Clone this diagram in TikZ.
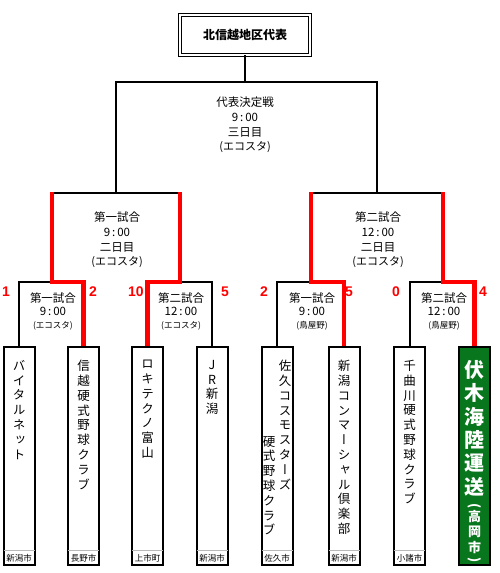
\documentclass[tikz,border=0pt]{standalone}
\usepackage{fontspec}
\setmainfont{Noto Sans CJK JP}
\newfontfamily\vfont[RawFeature=+vert]{Noto Sans CJK JP}
\newfontfamily\scorefont{Liberation Sans}
\definecolor{winred}{RGB}{255,0,0}
\definecolor{teamgreen}{RGB}{8,118,28}
\tikzset{
  bline/.style={line width=2pt, black},
  rline/.style={line width=4.5pt, winred, line join=miter},
  teambox/.style={draw, line width=2pt, minimum width=31pt, minimum height=218pt, anchor=north, inner sep=0pt},
  sepline/.style={gray!55, line width=1pt},
  score/.style={font=\scorefont\bfseries\fontsize{14}{14}\selectfont, text=winred, inner sep=0pt},
  infoA/.style={align=center, font=\fontsize{11.5}{14.6}\selectfont, inner sep=0pt},
  infoB/.style={align=center, font=\fontsize{11.5}{13}\selectfont, inner sep=0pt},
  vname/.style={align=center, font=\vfont\fontsize{12.5}{14.8}\selectfont, anchor=north, inner sep=0pt},
  city/.style={font=\fontsize{8.5}{9}\selectfont, inner sep=0pt},
  paren/.style={font=\bfseries\fontsize{13}{13}\selectfont, text=white, inner sep=0pt},
  titlebox/.style={draw, line width=0.9pt, double, double distance=1.6pt, minimum width=130pt, minimum height=40pt, font=\bfseries\fontsize{12}{14}\selectfont},
}
\begin{document}
\begin{tikzpicture}[x=1pt,y=-1pt]
\useasboundingbox (0,0) rectangle (500,573);
\fill[white] (0,0) rectangle (500,573);

% title
\node[titlebox] (top) at (245,35) {北信越地区代表};

% team boxes
\node[teambox] (t1) at (19,346) {};
\node[teambox] (t2) at (83.5,346) {};
\node[teambox] (t3) at (147.5,346) {};
\node[teambox] (t4) at (212,346) {};
\node[teambox] (t5) at (277,346) {};
\node[teambox] (t6) at (344,346) {};
\node[teambox] (t7) at (409.5,346) {};
\node[teambox, fill=teamgreen] (t8) at (474.5,346) {};

\foreach \t in {t1,t2,t3,t4,t5,t6,t7}{
  \draw[sepline] ([shift={(1pt,16pt)}]\t.south west) -- ([shift={(-1pt,16pt)}]\t.south east);
}

% city labels
\node[city] (c1) at ([yshift=8pt]t1.south) {新潟市};
\node[city] (c2) at ([yshift=8pt]t2.south) {長野市};
\node[city] (c3) at ([yshift=8pt]t3.south) {上市町};
\node[city] (c4) at ([yshift=8pt]t4.south) {新潟市};
\node[city] (c5) at ([yshift=8pt]t5.south) {佐久市};
\node[city] (c6) at ([yshift=8pt]t6.south) {新潟市};
\node[city] (c7) at ([yshift=8pt]t7.south) {小諸市};

% team names
\node[vname] (n1) at ([yshift=-14pt]t1.north) {バ\\イ\\タ\\ル\\ネ\\ッ\\ト};
\node[vname] (n2) at ([yshift=-14pt]t2.north) {信\\越\\硬\\式\\野\\球\\ク\\ラ\\ブ};
\node[vname] (n3) at ([yshift=-14pt]t3.north) {ロ\\キ\\テ\\ク\\ノ\\富\\山};
\node[vname] (n4) at ([yshift=-14pt]t4.north) {J\\R\\新\\潟};
\node[vname] (n5a) at ([shift={(8pt,-14pt)}]t5.north) {佐\\久\\コ\\ス\\モ\\ス\\タ\\ー\\ズ};
\node[vname] (n5b) at ([shift={(-8pt,-90pt)}]t5.north) {硬\\式\\野\\球\\ク\\ラ\\ブ};
\node[vname] (n6) at ([yshift=-14pt]t6.north) {新\\潟\\コ\\ン\\マ\\ー\\シ\\ャ\\ル\\倶\\楽\\部};
\node[vname] (n7) at ([yshift=-14pt]t7.north) {千\\曲\\川\\硬\\式\\野\\球\\ク\\ラ\\ブ};
\node[vname, font=\vfont\bfseries\fontsize{20}{23.4}\selectfont, text=white] (n8) at ([yshift=-14pt]t8.north) {伏\\木\\海\\陸\\運\\送};
\node[vname, font=\vfont\bfseries\fontsize{13}{15.5}\selectfont, text=white] (n8b) at ([yshift=-164pt]t8.north) {高\\岡\\市};
\node[paren] (p1) at (474.5,506) {\rotatebox{-90}{(}};
\node[paren] (p2) at (474.5,560) {\rotatebox{-90}{)}};

% match info
\node[infoA] (m0) at (245,125) {代表決定戦\\9\,:\,00\\三日目\\{\fontsize{11}{14.6}\selectfont(エコスタ)}};
\node[infoA] (m1) at (117,240) {第一試合\\9\,:\,00\\二日目\\{\fontsize{11}{14.6}\selectfont(エコスタ)}};
\node[infoA] (m2) at (378,240) {第二試合\\12\,:\,00\\二日目\\{\fontsize{11}{14.6}\selectfont(エコスタ)}};
\node[infoB] (m11) at (53,311) {第一試合\\9\,:\,00\\{\fontsize{8.5}{12}\selectfont(エコスタ)}};
\node[infoB] (m12) at (181,311) {第二試合\\12\,:\,00\\{\fontsize{8.5}{12}\selectfont(エコスタ)}};
\node[infoB] (m21) at (312,311) {第一試合\\9\,:\,00\\{\fontsize{8.5}{12}\selectfont(鳥屋野)}};
\node[infoB] (m22) at (444,311) {第二試合\\12\,:\,00\\{\fontsize{8.5}{12}\selectfont(鳥屋野)}};

% scores
\node[score] (s1) at (6,292) {1};
\node[score] (s2) at (93,292) {2};
\node[score] (s3) at (136,292) {10};
\node[score] (s4) at (225,292) {5};
\node[score] (s5) at (264,292) {2};
\node[score] (s6) at (349,292) {5};
\node[score] (s7) at (396,292) {0};
\node[score] (s8) at (483,292) {4};

% bracket coordinates
\coordinate (a0) at (245,82);
\coordinate (a1) at (116,82);
\coordinate (a2) at (377,82);
\coordinate (b1) at (116,193);
\coordinate (b2) at (377,193);
\coordinate (l1) at (52,193);
\coordinate (l2) at (180,193);
\coordinate (r1) at (311,193);
\coordinate (r2) at (443,193);
\coordinate (d1) at (19,282);
\coordinate (d2) at (83.5,282);
\coordinate (d3) at (147.5,282);
\coordinate (d4) at (212,282);
\coordinate (d5) at (277,282);
\coordinate (d6) at (344,282);
\coordinate (d7) at (409.5,282);
\coordinate (d8) at (474.5,282);

% black bracket lines
\draw[bline] (top.south) -- (a0);
\draw[bline] (b1) -- (a1) -- (a2) -- (b2);
\draw[bline] (l1) -- (l2);
\draw[bline] (r1) -- (r2);
\draw[bline] (t1.north) -- (d1) -- (d2) -- (t2.north);
\draw[bline] (t3.north) -- (d3) -- (d4) -- (t4.north);
\draw[bline] (t5.north) -- (d5) -- (d6) -- (t6.north);
\draw[bline] (t7.north) -- (d7) -- (d8) -- (t8.north);

% winner paths
\draw[rline] ([yshift=1pt]l1) -- (l1 |- d1) -- (d2) -- (t2.north);
\draw[rline] ([yshift=1pt]l2) -- (l2 |- d3) -- (d3) -- (t3.north);
\draw[rline] ([yshift=1pt]r1) -- (r1 |- d5) -- (d6) -- (t6.north);
\draw[rline] ([yshift=1pt]r2) -- (r2 |- d7) -- (d8) -- (t8.north);
\end{tikzpicture}
\end{document}
